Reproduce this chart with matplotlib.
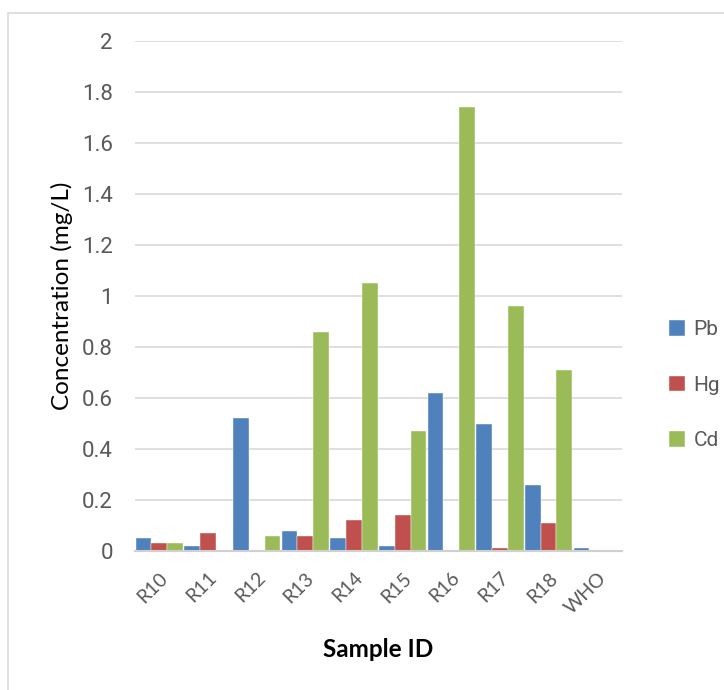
import matplotlib
matplotlib.use("Agg")
import matplotlib.pyplot as plt
import numpy as np
from matplotlib.patches import Rectangle

samples = ["R10", "R11", "R12", "R13", "R14", "R15", "R16", "R17", "R18", "WHO"]
pb = [0.05, 0.02, 0.52, 0.08, 0.05, 0.02, 0.62, 0.50, 0.26, 0.01]
hg = [0.03, 0.07, 0.0, 0.06, 0.12, 0.14, 0.0, 0.01, 0.11, 0.006]
cd = [0.03, 0.0, 0.06, 0.86, 1.05, 0.47, 1.74, 0.96, 0.71, 0.003]

plt.rcParams['font.family'] = ['Roboto', 'DejaVu Sans']

fig = plt.figure(figsize=(7.24, 6.9), dpi=100)
ax = fig.add_axes([0.1865, 0.2014, 0.672, 0.7392])

# chart frame
fig.patches.append(Rectangle((8 / 724, -0.01), 1.0, 1 - 13 / 690 + 0.01, transform=fig.transFigure,
                             fill=False, edgecolor="#d9d9d9", linewidth=1.2))

x = np.arange(len(samples))
w = 0.325
ax.bar(x - w, pb, w, color="#4f81bd", label="Pb", edgecolor="white", linewidth=0.3)
ax.bar(x, hg, w, color="#c0504d", label="Hg", edgecolor="white", linewidth=0.3)
ax.bar(x + w, cd, w, color="#9bbb59", label="Cd", edgecolor="white", linewidth=0.3)

ax.set_xlim(-0.5, len(samples) - 0.5)
ax.set_ylim(0, 2)
ax.set_yticks(np.arange(0, 2.01, 0.2))
ax.set_yticklabels(["0", "0.2", "0.4", "0.6", "0.8", "1", "1.2", "1.4", "1.6", "1.8", "2"])
ax.set_xticks(x)
ax.set_xticklabels(samples, rotation=45, ha="right", rotation_mode="anchor",
                   family=["Lato", "DejaVu Sans"])
ax.tick_params(axis="y", length=0, labelsize=16, colors="#595959", pad=16)
ax.tick_params(axis="x", length=0, labelsize=14, colors="#595959", pad=13)

ax.grid(axis="y", color="#d9d9d9", linewidth=1.2)
ax.set_axisbelow(True)
for s in ["top", "right", "left"]:
    ax.spines[s].set_visible(False)
ax.spines["bottom"].set_color("#d0d0d0")
ax.spines["bottom"].set_linewidth(1.5)

ax.set_ylabel("Concentration (mg/L)", fontsize=17.5, family=["Lato", "DejaVu Sans"], labelpad=6)
ax.set_xlabel("Sample ID", fontsize=17.5, fontweight="bold", family=["Lato", "DejaVu Sans"], labelpad=15)

ax.legend(loc="center left", bbox_to_anchor=(1.06, 0.325), frameon=False, fontsize=15,
          handlelength=0.75, handleheight=0.75, handletextpad=0.4, labelspacing=1.75,
          labelcolor="#595959")

fig.savefig("out.png", dpi=100)
